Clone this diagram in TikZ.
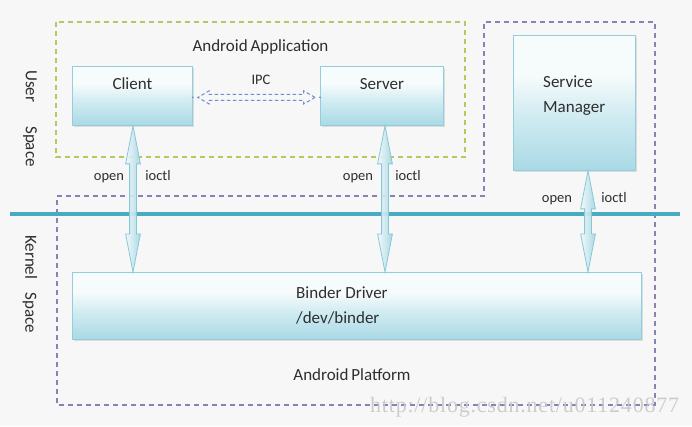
\documentclass[tikz,border=0pt]{standalone}
\usepackage{fontspec}
\setmainfont{Carlito}
\newfontfamily\wmfont[LetterSpace=3.6]{Liberation Serif}
\usetikzlibrary{shapes.arrows,shadows,calc}
\definecolor{bg}{HTML}{F7F7F7}
\definecolor{boxtop}{HTML}{F6FBFC}
\definecolor{boxmid}{HTML}{D2ECF2}
\definecolor{boxbot}{HTML}{A9D9E5}
\definecolor{boxedge}{HTML}{93CEDD}
\definecolor{appgreen}{HTML}{B5C95E}
\definecolor{platpurple}{HTML}{8A80B5}
\definecolor{kline}{HTML}{48ABC2}
\definecolor{ipcblue}{HTML}{6A8ED0}
\definecolor{arrowedge}{HTML}{86C8D9}
\definecolor{arrowtop}{HTML}{F2FAFC}
\definecolor{arrowbot}{HTML}{A3D6E2}
\definecolor{txt}{HTML}{2E2E2E}
\definecolor{wmgray}{HTML}{C8C8C8}
\pgfdeclareverticalshading{boxshade}{100bp}{color(0bp)=(boxbot); color(25bp)=(boxbot); color(46bp)=(boxmid); color(60bp)=(boxtop); color(100bp)=(boxtop)}
\newcommand\lblfont{\fontsize{17}{25}\selectfont}
\newcommand\smallfont{\fontsize{14.5}{17}\selectfont}
\tikzset{
  box/.style={draw=boxedge, line width=0.8pt, shading=boxshade, inner sep=0pt,
    drop shadow={opacity=0.22, shadow xshift=1.3pt, shadow yshift=-1.3pt},
    text=txt, font=\lblfont},
  lbl/.style={text=txt, font=\lblfont, inner sep=0pt},
  sml/.style={text=txt, font=\smallfont, inner sep=0pt, anchor=base},
  appframe/.style={draw=appgreen, line width=1.1pt, dash pattern=on 5pt off 4pt},
  platframe/.style={draw=platpurple, line width=1.1pt, dash pattern=on 5pt off 4pt},
  darrow/.style={shape=double arrow, double arrow head extend=4pt,
    double arrow tip angle=22, inner xsep=0pt, inner ysep=3pt,
    draw=arrowedge, line width=0.8pt, rotate=-90,
    left color=arrowtop, right color=arrowbot, fill opacity=0.9},
  ipcarrow/.style={shape=double arrow, double arrow head extend=3.5pt,
    double arrow tip angle=60, inner xsep=0pt, inner ysep=2.5pt,
    draw=ipcblue, line width=1pt, dash pattern=on 3.5pt off 2.5pt},
}
\begin{document}
\begin{tikzpicture}[x=1pt,y=-1pt]
\fill[bg] (0,0) rectangle (692,426);
\useasboundingbox (0,0) rectangle (692,426);

% frames
\draw[appframe] (56,22) rectangle (465,157);
\draw[platframe] (57,196) -- (484,196) -- (484,22) -- (655,22) -- (655,405) -- (57,405) -- cycle;

% user/kernel separator
\coordinate (sepL) at (10,214);
\coordinate (sepR) at (680,214);
\draw[kline, line width=3.5pt] (sepL) -- (sepR);

% boxes
\node[box, anchor=north west, minimum width=120pt, text height=23pt, text depth=36pt] (client) at (72,66) {Client};
\node[box, anchor=north west, minimum width=123pt, text height=23pt, text depth=36pt] (server) at (320,66) {Server};
\node[box, anchor=north west, minimum width=122pt, minimum height=135pt] (sm) at (513,35) {};
\node[box, anchor=north west, minimum width=569pt, minimum height=67pt] (binder) at (72,272) {};

% box texts
\node[lbl, align=left, anchor=north west] (smtext) at (543,75.5) {Service\\Manager};
\node[lbl, align=left, anchor=north west] (bindertext) at (296,286.5) {Binder Driver\\/dev/binder};
\node[lbl, anchor=base] (apptext) at (260.5,51) {Android\hspace{-1pt} Application};
\node[lbl, anchor=base] (plattext) at (352,380) {Android\hspace{-1pt} Platform};

% IPC
\path let \p1=(client.east), \p2=(server.west) in
  node[ipcarrow, minimum height={\x2-\x1-10pt}] (ipc) at ($(\p1)!0.5!(\p2)+(0,1.5)$) {};
\fill[ipcblue] (client.east) ++(0,1.5) circle (1pt);
\fill[ipcblue] (server.west) ++(0,1.5) circle (1pt);
\node[sml] (ipctext) at (261,84) {IPC};

% open / ioctl arrows
\path let \p1=(client.south), \p2=(binder.north) in
  node[darrow, minimum height={\y1-\y2}] (a1) at (133pt,{0.5*(\y1+\y2)}) {};
\path let \p1=(server.south), \p2=(binder.north) in
  node[darrow, minimum height={\y1-\y2}] (a2) at (385pt,{0.5*(\y1+\y2)}) {};
\path let \p1=(sm.south), \p2=(binder.north) in
  node[darrow, minimum height={\y1-\y2}] (a3) at (588pt,{0.5*(\y1+\y2)}) {};

\node[sml] (o1) at (109,180) {open};
\node[sml] (i1) at (158,180) {ioctl};
\node[sml] (o2) at (358,180) {open};
\node[sml] (i2) at (408,180) {ioctl};
\node[sml] (o3) at (557,202) {open};
\node[sml] (i3) at (614,202) {ioctl};

% side labels
\node[lbl, rotate=-90] (user) at (30,118.5) {User\hspace{24pt}Space};
\node[lbl, rotate=-90] (kernel) at (30,284) {Kernel\hspace{13pt}Space};

% watermark
\node[text=wmgray, font=\wmfont\fontsize{22}{24}\selectfont, anchor=base west, inner sep=0pt, opacity=0.9] (wm) at (370,412) {http://blog.csdn.net/u011240877};
\end{tikzpicture}
\end{document}
